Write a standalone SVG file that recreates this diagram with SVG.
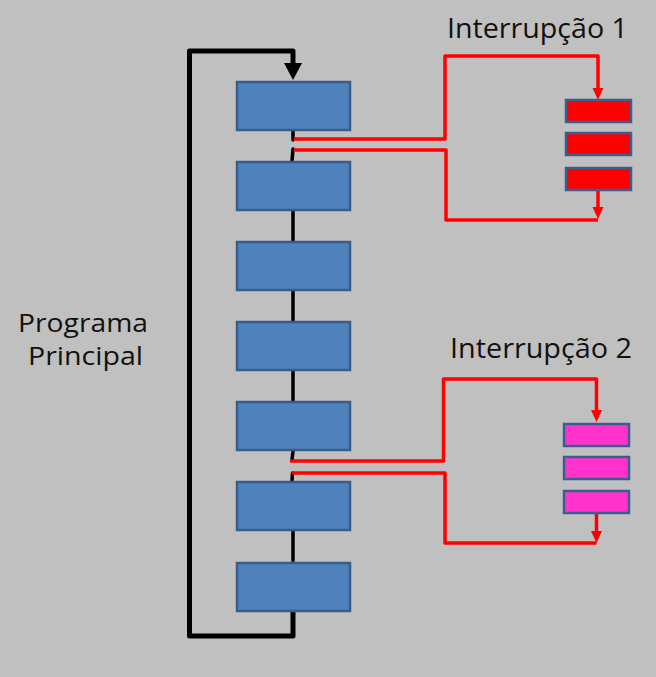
<svg xmlns="http://www.w3.org/2000/svg" width="656" height="677" viewBox="0 0 656 677">
<defs>
<style>
.blk{fill:#4f81bd;stroke:#385d8a;stroke-width:2.5}
.rbox{fill:#ff0000;stroke:#3a5f8f;stroke-width:2.5}
.mbox{fill:#ff33cc;stroke:#3a5f8f;stroke-width:2.5}
.red{fill:none;stroke:#ff0000;stroke-width:3.5;stroke-linejoin:round}
.blkl{fill:none;stroke:#000;stroke-width:3.5;stroke-linecap:round}
.loop{fill:none;stroke:#000;stroke-width:5;stroke-linejoin:round;stroke-linecap:round}
.lbl{font-family:"Open Sans","Liberation Sans",sans-serif;font-size:28px;fill:#111}
.lbl2{font-family:"Open Sans","Liberation Sans",sans-serif;font-size:25px;fill:#111}
</style>
</defs>
<rect width="656" height="677" fill="#c0c0c0"/>
<g id="connectors">
<path class="loop" d="M293,610 V636 H189.5 V51 H293 V64"/>
<polygon points="284,63 302,63 293,80" fill="#000"/>
<line class="blkl" x1="293" y1="131" x2="293" y2="140"/>
<line class="blkl" x1="293" y1="149" x2="292" y2="161"/>
<line class="blkl" x1="293" y1="211" x2="293" y2="241"/>
<line class="blkl" x1="293" y1="291" x2="293" y2="321"/>
<line class="blkl" x1="293" y1="371" x2="293" y2="401"/>
<line class="blkl" x1="293" y1="451" x2="292" y2="460"/>
<line class="blkl" x1="292.5" y1="473" x2="292" y2="481"/>
<line class="blkl" x1="293" y1="531" x2="293" y2="561"/>
<path class="red" d="M294,139 H445 V56 H598 V89"/>
<polygon points="592.5,88 603.5,88 598,100" fill="#ff0000"/>
<path class="red" d="M294,150 H446 V220 H598"/>
<line class="red" x1="598" y1="190" x2="598" y2="208"/>
<polygon points="592.5,207 603.5,207 598,219" fill="#ff0000"/>
<path class="red" d="M290,461 H443.5 V379 H596.5 V411"/>
<polygon points="591,410 602,410 596.5,422" fill="#ff0000"/>
<path class="red" d="M292,473 H445 V543 H596.5"/>
<line class="red" x1="596.5" y1="513" x2="596.5" y2="532"/>
<polygon points="591,531 602,531 596.5,543" fill="#ff0000"/>
</g>
<g id="main-program">
<rect id="b1" class="blk" x="237" y="82" width="113" height="48"/>
<rect id="b2" class="blk" x="237" y="162" width="113" height="48"/>
<rect id="b3" class="blk" x="237" y="242" width="113" height="48"/>
<rect id="b4" class="blk" x="237" y="322" width="113" height="48"/>
<rect id="b5" class="blk" x="237" y="402" width="113" height="48"/>
<rect id="b6" class="blk" x="237" y="482" width="113" height="48"/>
<rect id="b7" class="blk" x="237" y="563" width="113" height="48"/>
</g>
<g id="int1">
<rect class="rbox" x="566" y="100" width="65" height="22"/>
<rect class="rbox" x="566" y="133" width="65" height="22"/>
<rect class="rbox" x="566" y="168" width="65" height="22"/>
</g>
<g id="int2">
<rect class="mbox" x="564" y="424" width="65" height="22"/>
<rect class="mbox" x="564" y="457" width="65" height="22"/>
<rect class="mbox" x="564" y="491" width="65" height="22"/>
</g>
<g id="labels">
<text class="lbl" x="447" y="38" textLength="181" lengthAdjust="spacingAndGlyphs">Interrupção 1</text>
<text class="lbl" x="450" y="358" textLength="182" lengthAdjust="spacingAndGlyphs">Interrupção 2</text>
<text class="lbl2" x="18" y="332" textLength="130" lengthAdjust="spacingAndGlyphs">Programa</text>
<text class="lbl2" x="28" y="365" textLength="115" lengthAdjust="spacingAndGlyphs">Principal</text>
</g>
</svg>
